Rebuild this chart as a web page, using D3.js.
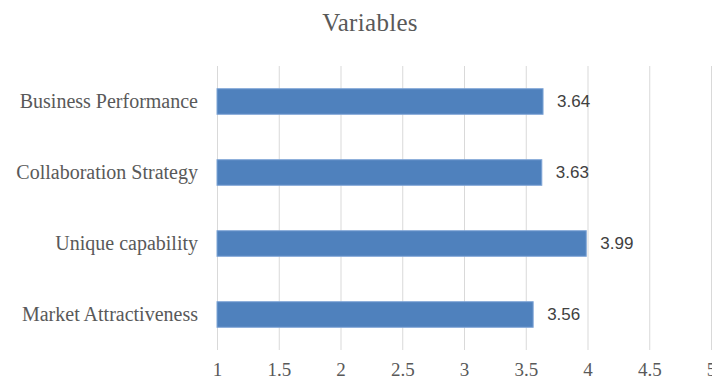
<!DOCTYPE html>
<html>
<head>
<meta charset="utf-8">
<script src="https://cdn.jsdelivr.net/npm/d3@7"></script>
<style>
  body { margin: 0; background: #fff; }
  svg { display: block; }
</style>
</head>
<body>
<div id="chart"></div>
<script>
var categories = ["Business Performance", "Collaboration Strategy", "Unique capability", "Market Attractiveness"];
var values = [3.64, 3.63, 3.99, 3.56];
var tickValues = [1, 1.5, 2, 2.5, 3, 3.5, 4, 4.5, 5];
var chartTitle = "Variables";

var W = 712, H = 382;
var margin = {top: 66, right: 1, bottom: 32, left: 217};
var width = W - margin.left - margin.right,
    height = H - margin.top - margin.bottom;

var serif = "'Liberation Serif', 'Times New Roman', serif";

var svg = d3.select("#chart").append("svg")
  .attr("width", W).attr("height", H);

svg.append("text")
  .attr("x", 370).attr("y", 31)
  .attr("text-anchor", "middle")
  .style("font-family", serif)
  .style("font-size", "25px")
  .style("letter-spacing", "0.3px")
  .style("fill", "#595959")
  .text(chartTitle);

var g = svg.append("g")
  .attr("transform", "translate(" + margin.left + "," + margin.top + ")");

var x = d3.scaleLinear().domain([1, 5]).range([0, 494]);
var y = d3.scaleBand().domain(categories).range([0, height]).paddingInner(0.64).paddingOuter(0.32);

// gridlines
g.selectAll(".grid").data(tickValues).enter().append("line")
  .attr("class", "grid")
  .attr("x1", function(d) { return x(d) + 0.5; })
  .attr("x2", function(d) { return x(d) + 0.5; })
  .attr("y1", 0).attr("y2", height)
  .attr("stroke", "#d9d9d9").attr("stroke-width", 1);

// x axis labels
var xAxis = g.append("g")
  .attr("transform", "translate(0," + height + ")")
  .call(d3.axisBottom(x).tickValues(tickValues).tickSize(0).tickPadding(13).tickFormat(d3.format("")));
xAxis.select(".domain").remove();
xAxis.selectAll("text")
  .style("font-family", serif)
  .style("font-size", "19px")
  .style("fill", "#595959");

// y axis labels
var yAxis = g.append("g")
  .call(d3.axisLeft(y).tickSize(0).tickPadding(19));
yAxis.select(".domain").remove();
yAxis.selectAll("text")
  .style("font-family", serif)
  .style("font-size", "20px")
  .style("fill", "#595959");

var data = categories.map(function(c, i) { return {cat: c, val: values[i]}; });

g.selectAll(".bar").data(data).enter().append("rect")
  .attr("class", "bar")
  .attr("x", x(1))
  .attr("y", function(d) { return y(d.cat); })
  .attr("width", function(d) { return x(d.val) - x(1); })
  .attr("height", y.bandwidth())
  .attr("fill", "#4f81bd")
  .attr("stroke", "#7fa5d6").attr("stroke-width", 1);

g.selectAll(".lbl").data(data).enter().append("text")
  .attr("class", "lbl")
  .attr("x", function(d) { return x(d.val) + 14; })
  .attr("y", function(d) { return y(d.cat) + y.bandwidth() / 2; })
  .attr("dy", "0.35em")
  .style("font-family", "'Liberation Sans', Arial, sans-serif")
  .style("font-size", "17px")
  .style("fill", "#404040")
  .text(function(d) { return d3.format(".2f")(d.val); });
</script>
</body>
</html>
